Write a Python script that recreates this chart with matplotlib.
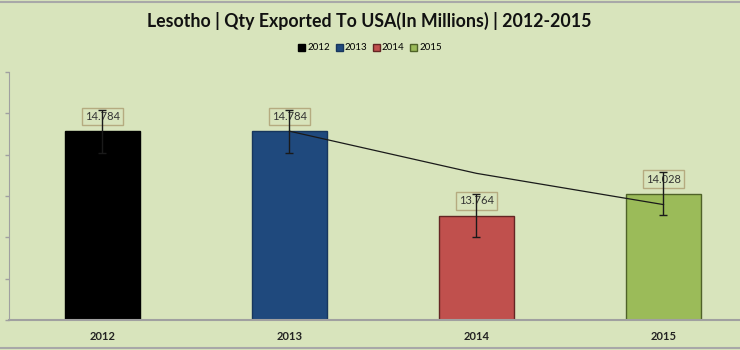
import numpy as np
import pandas as pd
import matplotlib.pyplot as plt
from matplotlib.patches import Patch

# exports of Lesotho to the USA, millions
years = ["2012", "2013", "2014", "2015"]
qty = [14.784, 14.784, 13.764, 14.028]
colors = ["#000000", "#1f497d", "#c0504d", "#9bbb59"]
edges = ["#000000", "#17365d", "#632523", "#4f6228"]

bg = "#d8e4bc"
plt.rcParams["font.family"] = ["Lato", "DejaVu Sans"]

x = np.arange(len(years))
vals = np.array(qty)
# standard error bars and 2-period moving average trendline
err = vals.std(ddof=1) / np.sqrt(len(vals))
mavg = pd.Series(vals).rolling(2).mean()

fig = plt.figure(figsize=(7.4, 3.5), dpi=100, facecolor=bg)
ax = fig.add_axes([9 / 740, 30 / 350, 748 / 740, 248 / 350])
ax.set_facecolor(bg)

ax.bar(x, vals, width=0.4, color=colors, edgecolor=edges, linewidth=1, zorder=2)
ax.errorbar(x, vals, yerr=err, fmt="none", ecolor="#1a1a1a", elinewidth=1,
            capsize=3, capthick=1, zorder=5)
ax.plot(x, mavg, color="#1a1a1a", linewidth=0.9, zorder=4)

for xi, v in zip(x, vals):
    ax.annotate(f"{v:.3f}", (xi, v), xytext=(0, 10.5), textcoords="offset points",
                ha="center", va="center", fontsize=8, color="#333333",
                bbox=dict(boxstyle="square,pad=0.3", fc=bg, ec="#b5ab80", lw=1),
                zorder=3)

ax.set_xlim(-0.5, 3.5)
ax.set_ylim(12.5, 15.5)
ax.set_yticks(np.arange(12.5, 15.51, 0.5))
ax.set_yticklabels([])
ax.set_xticks(x)
ax.set_xticklabels(years, fontsize=8, fontweight="bold", color="#222222")
ax.tick_params(axis="x", length=0, pad=8)
ax.tick_params(axis="y", length=3, color="#a0a0a0", width=1)
for s in ["top", "right"]:
    ax.spines[s].set_visible(False)
ax.spines["left"].set_color("#a0a0a0")
ax.spines["bottom"].set_color("#a0a0a0")
ax.spines["bottom"].set_linewidth(1.5)

fig.text(369 / 740, 1 - 21 / 350, "Lesotho | Qty Exported To USA(In Millions) | 2012-2015",
         ha="center", va="center", fontsize=12.8, fontweight="bold", color="#111111")

handles = [Patch(facecolor=c, edgecolor=e) for c, e in zip(colors, edges)]
fig.legend(handles, years, loc="center", bbox_to_anchor=(370 / 740, 1 - 48 / 350),
           ncol=4, frameon=False, fontsize=7, handlelength=0.7, handleheight=0.7,
           handletextpad=0.2, columnspacing=0.6)

# thin grey frame lines at top and bottom
fig.add_artist(plt.Line2D([0, 1], [1 - 1.5 / 350, 1 - 1.5 / 350], color="#a8a8a8", lw=1.5))
fig.add_artist(plt.Line2D([0, 1], [2.5 / 350, 2.5 / 350], color="#a8a8a8", lw=1.5))

fig.savefig("out.png", dpi=100, facecolor=bg)
